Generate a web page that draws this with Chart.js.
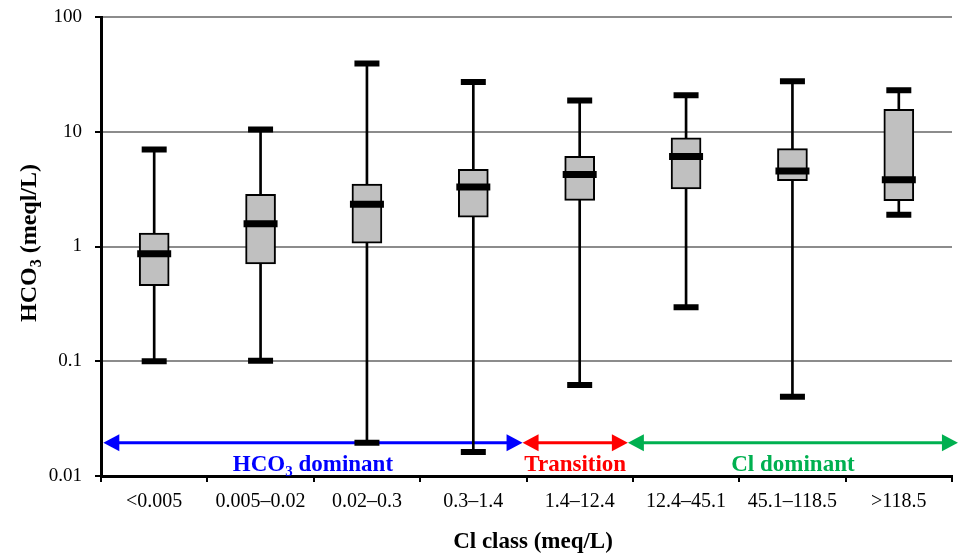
<!DOCTYPE html>
<html>
<head>
<meta charset="utf-8">
<title>HCO3 by Cl class</title>
<script src="https://cdn.jsdelivr.net/npm/chart.js@4.4.1/dist/chart.umd.min.js"></script>
<style>
  html,body{margin:0;padding:0;background:#fff;}
  #wrap{position:relative;width:966px;height:555px;}
</style>
</head>
<body>
<div id="wrap"><canvas id="chart" width="966" height="555"></canvas></div>
<script>
// Cl classes (meq/L)
const classes = ['<0.005', '0.005–0.02', '0.02–0.3', '0.3–1.4', '1.4–12.4', '12.4–45.1', '45.1–118.5', '>118.5'];

// HCO3 box-plot statistics per class (meq/L)
const whiskerLow  = [0.1,   0.101, 0.0195, 0.0162, 0.062, 0.295, 0.049, 1.89];
const quart1      = [0.456, 0.706, 1.07,   1.80,   2.52,  3.17,  3.75,  2.51];
const medians     = [0.863, 1.58,  2.33,   3.3,    4.25,  6.1,   4.55,  3.82];
const quart3      = [1.31,  2.85,  3.5,    4.7,    6.1,   8.83,  7.13,  15.7];
const whiskerHigh = [7.0,   10.45, 39.4,   27.1,   18.7,  20.8,  27.6,  23.0];

// y axis ticks
const yTicks = [0.01, 0.1, 1, 10, 100];
const yTickLabels = ['0.01', '0.1', '1', '10', '100'];

// water-type ranges along the class axis (in class index units)
const ranges = [
  { from: -0.478, to: 3.463, color: '#0000ff', label: [['HCO'], ['3', true], [' dominant']] },
  { from: 3.463,  to: 4.453, color: '#ff0000', label: [['Transition']] },
  { from: 4.453,  to: 7.556, color: '#00b050', label: [['Cl dominant']] }
];
const rangeLevel = 0.0195;
const yTitle = [['HCO'], ['3', true], [' (meql/L)']];
const xTitle = [['Cl class (meq/L)']];

const SERIF = '"Liberation Serif", "Times New Roman", serif';

function drawRich(ctx, parts, cx, by, color, size){
  const fontFor = sub => `bold ${sub ? Math.round(size * 0.65) : size}px ${SERIF}`;
  let w = 0;
  parts.forEach(([t, sub]) => { ctx.font = fontFor(sub); w += ctx.measureText(t).width; });
  let px = cx - w / 2;
  ctx.save();
  ctx.fillStyle = color;
  ctx.textAlign = 'left';
  ctx.textBaseline = 'alphabetic';
  parts.forEach(([t, sub]) => {
    ctx.font = fontFor(sub);
    ctx.fillText(t, px, by + (sub ? size * 0.22 : 0));
    px += ctx.measureText(t).width;
  });
  ctx.restore();
}

function drawArrow(ctx, x0, x1, yy, color){
  const hl = 16, hw = 8.5;
  ctx.save();
  ctx.strokeStyle = color; ctx.fillStyle = color; ctx.lineWidth = 3;
  ctx.beginPath(); ctx.moveTo(x0 + hl - 1, yy); ctx.lineTo(x1 - hl + 1, yy); ctx.stroke();
  ctx.beginPath(); ctx.moveTo(x0, yy); ctx.lineTo(x0 + hl, yy - hw); ctx.lineTo(x0 + hl, yy + hw); ctx.closePath(); ctx.fill();
  ctx.beginPath(); ctx.moveTo(x1, yy); ctx.lineTo(x1 - hl, yy - hw); ctx.lineTo(x1 - hl, yy + hw); ctx.closePath(); ctx.fill();
  ctx.restore();
}

// arrows + range labels under the boxes, axis titles (y one has a subscript)
const overlay = {
  id: 'overlay',
  beforeDatasetsDraw(chart){
    const { ctx, scales: { x, y } } = chart;
    const ay = y.getPixelForValue(rangeLevel);
    ranges.forEach(r => {
      const x0 = x.getPixelForValue(r.from), x1 = x.getPixelForValue(r.to);
      drawArrow(ctx, x0, x1, ay, r.color);
      drawRich(ctx, r.label, (x0 + x1) / 2, ay + 28, r.color, 23);
    });
  },
  afterDraw(chart){
    const { ctx } = chart;
    drawRich(ctx, xTitle, 533, 548, '#000', 23);
    ctx.save();
    ctx.translate(36, 243);
    ctx.rotate(-Math.PI / 2);
    drawRich(ctx, yTitle, 0, 0, '#000', 24);
    ctx.restore();
  }
};

const markOpts = { type: 'line', showLine: false, pointStyle: 'line', pointBorderColor: '#000', pointBackgroundColor: '#000', borderColor: '#000' };

new Chart(document.getElementById('chart'), {
  type: 'bar',
  data: {
    labels: classes,
    datasets: [
      { data: classes.map((_, i) => [whiskerLow[i], whiskerHigh[i]]), backgroundColor: '#000', borderWidth: 0, barThickness: 2, grouped: false, order: 5 },
      { data: classes.map((_, i) => [quart1[i], quart3[i]]), backgroundColor: '#c0c0c0', borderColor: '#000', borderWidth: 2, borderSkipped: false, barThickness: 30, grouped: false, order: 4 },
      { ...markOpts, data: medians, pointRadius: 17, pointBorderWidth: 7, order: 3 },
      { ...markOpts, data: whiskerHigh, pointRadius: 12.5, pointBorderWidth: 6, order: 2 },
      { ...markOpts, data: whiskerLow, pointRadius: 12.5, pointBorderWidth: 6, order: 1 }
    ]
  },
  options: {
    responsive: false,
    animation: false,
    devicePixelRatio: 1,
    layout: { autoPadding: false, padding: { top: 17, right: 14, left: 0, bottom: 0 } },
    plugins: { legend: { display: false }, tooltip: { enabled: false } },
    scales: {
      x: {
        type: 'category',
        offset: true,
        grid: { display: true, drawOnChartArea: false, offset: true, tickLength: 6, color: '#000', lineWidth: 2 },
        border: { color: '#000', width: 3 },
        ticks: { color: '#000', font: { family: SERIF, size: 20 }, padding: 8, maxRotation: 0, autoSkip: false },
        afterFit(s){ s.height = 79; s.paddingLeft = 0; s.paddingRight = 0; }
      },
      y: {
        type: 'logarithmic',
        min: 0.01,
        max: 100,
        afterBuildTicks(s){ s.ticks = yTicks.map(v => ({ value: v })); },
        ticks: { color: '#000', font: { family: SERIF, size: 19 }, padding: 13, callback: (v, i) => yTickLabels[i] },
        grid: { color: '#8c8c8c', lineWidth: 2, tickColor: '#000', tickLength: 6 },
        border: { color: '#000', width: 3 },
        afterFit(s){ s.width = 101; s.paddingTop = 0; s.paddingBottom = 0; }
      }
    }
  },
  plugins: [overlay]
});
</script>
</body>
</html>
